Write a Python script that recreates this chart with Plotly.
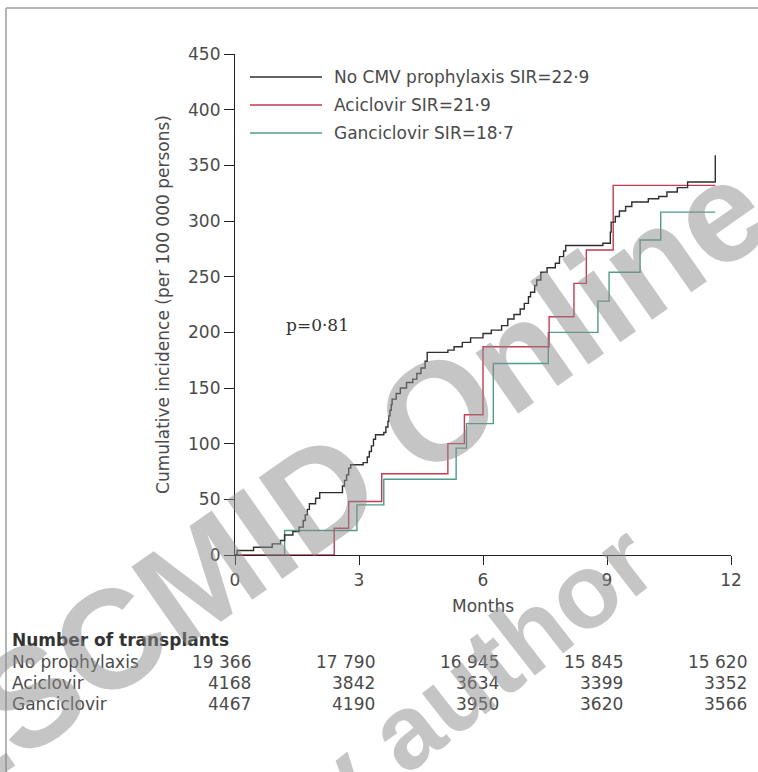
import plotly.graph_objects as go

# Cumulative incidence step curves (months, cases per 100 000 persons)
none_months = [0, 0.05, 0.45, 0.9, 1.1, 1.2, 1.4, 1.55, 1.65, 1.7, 1.75, 1.8, 1.95, 2.05,
               2.6, 2.65, 2.7, 2.75, 2.8, 3.1, 3.2, 3.25, 3.3, 3.35, 3.4, 3.6, 3.65, 3.7,
               3.72, 3.75, 3.78, 3.8, 3.9, 4.0, 4.15, 4.3, 4.4, 4.5, 4.6, 4.65, 5.15, 5.3,
               5.5, 5.7, 6.0, 6.2, 6.45, 6.6, 6.75, 6.9, 7.0, 7.1, 7.15, 7.25, 7.3, 7.4,
               7.55, 7.75, 7.85, 7.95, 8.0, 8.9, 9.08, 9.1, 9.2, 9.3, 9.45, 9.6, 10.0,
               10.25, 10.45, 10.7, 10.95, 11.62]
none_values = [0, 4, 7, 10, 13, 18, 21, 25, 31, 36, 41, 46, 51, 56,
               62, 67, 72, 78, 81, 83, 88, 93, 98, 104, 108, 110, 115, 120,
               125, 130, 135, 140, 145, 150, 155, 158, 163, 168, 174, 182, 184, 187,
               191, 195, 199, 202, 206, 212, 216, 221, 226, 232, 236, 242, 247, 254,
               258, 262, 268, 273, 278, 280, 290, 299, 304, 309, 313, 317, 320,
               322, 326, 330, 335, 359]

aci_months = [0, 2.4, 2.75, 3.55, 5.15, 5.55, 6.0, 7.6, 8.2, 8.5, 9.15, 11.62]
aci_values = [0, 24, 48, 73, 100, 126, 187, 214, 244, 274, 332, 332]

gan_months = [0, 1.2, 2.95, 3.6, 5.35, 5.6, 6.25, 7.58, 8.78, 9.05, 9.8, 10.3, 11.62]
gan_values = [0, 22, 45, 68, 96, 118, 172, 200, 228, 254, 283, 308, 308]

series_names = ["No CMV prophylaxis SIR=22·9", "Aciclovir SIR=21·9", "Ganciclovir SIR=18·7"]
series_colors = ["#2e2e2e", "#c63a52", "#4f9c8a"]

# Number at risk table
risk_months = [0, 3, 6, 9, 12]
risk_labels = ["No prophylaxis", "Aciclovir", "Ganciclovir"]
risk_counts = [
    ["19 366", "17 790", "16 945", "15 845", "15 620"],
    ["4168", "3842", "3634", "3399", "3352"],
    ["4467", "4190", "3950", "3620", "3566"],
]

x_ticks = [0, 3, 6, 9, 12]
y_ticks = [0, 50, 100, 150, 200, 250, 300, 350, 400, 450]

W, H = 758, 772
L, R, T, B = 235, 27, 54, 217          # plot area margins in px
PW, PH = W - L - R, H - T - B


def px(xp):
    return (xp - L) / PW


def py(yp):
    return (H - B - yp) / PH


SANS = "DejaVu Sans, Verdana, sans-serif"
SERIF = "DejaVu Serif, serif"
TXT = "#4a4a4a"
FS = 17

fig = go.Figure()
for mo, val, name, col in [
    (gan_months, gan_values, series_names[2], series_colors[2]),
    (aci_months, aci_values, series_names[1], series_colors[1]),
    (none_months, none_values, series_names[0], series_colors[0]),
]:
    fig.add_trace(go.Scatter(x=mo, y=val, mode="lines", name=name,
                             line=dict(color=col, width=1.4, shape="hv"),
                             showlegend=False, hoverinfo="skip"))

shapes = []
annotations = []

# Hand-placed legend
leg_y = [77, 105, 133]
for name, col, yy in zip(series_names, series_colors, leg_y):
    shapes.append(dict(type="line", xref="paper", yref="paper",
                       x0=px(250), x1=px(322), y0=py(yy), y1=py(yy),
                       line=dict(color=col, width=1.6)))
    annotations.append(dict(text=name, xref="paper", yref="paper", x=px(332), y=py(yy),
                            xanchor="left", yanchor="middle", showarrow=False,
                            font=dict(family=SANS, size=FS, color=TXT)))

annotations.append(dict(text="p=0·81", xref="paper", yref="paper", x=px(284), y=py(325),
                        xanchor="left", yanchor="middle", showarrow=False,
                        font=dict(family=SERIF, size=FS, color="#333")))

# x-axis title
annotations.append(dict(text="Months", xref="x", yref="paper", x=6, y=py(606),
                        xanchor="center", yanchor="middle", showarrow=False,
                        font=dict(family=SANS, size=FS, color=TXT)))

# Number of transplants table
annotations.append(dict(text="<b>Number of transplants</b>", xref="paper", yref="paper",
                        x=px(10), y=py(640), xanchor="left", yanchor="middle",
                        showarrow=False, font=dict(family=SANS, size=FS, color="#333")))
row_y = [662, 683, 704]
for lab, counts, yy in zip(risk_labels, risk_counts, row_y):
    annotations.append(dict(text=lab, xref="paper", yref="paper", x=px(10), y=py(yy),
                            xanchor="left", yanchor="middle", showarrow=False,
                            font=dict(family=SANS, size=FS, color=TXT)))
    for m, c in zip(risk_months, counts):
        annotations.append(dict(text=c, xref="x", yref="paper", x=m, y=py(yy),
                                xanchor="right", yanchor="middle", showarrow=False,
                                xshift=18,
                                font=dict(family=SANS, size=FS, color=TXT)))

# Watermark text
WM = "Liberation Sans, Arial, sans-serif"
annotations.append(dict(text="ESCMID Online", xref="paper", yref="paper",
                        x=px(332), y=py(484), xanchor="center", yanchor="middle",
                        textangle=-35, showarrow=False,
                        font=dict(family=WM, size=140, color="rgba(140,140,140,0.5)",
                                  weight="bold")))
annotations.append(dict(text="by author", xref="paper", yref="paper",
                        x=px(451), y=py(694), xanchor="center", yanchor="middle",
                        textangle=-38, showarrow=False,
                        font=dict(family=WM, size=105, color="rgba(140,140,140,0.5)",
                                  weight="bold")))

# Panel frame
shapes.append(dict(type="line", xref="paper", yref="paper", x0=px(6), x1=px(758),
                   y0=py(8), y1=py(8), line=dict(color="#b5b5b5", width=2)))
shapes.append(dict(type="line", xref="paper", yref="paper", x0=px(6), x1=px(6),
                   y0=py(8), y1=py(772), line=dict(color="#b5b5b5", width=2)))

fig.update_layout(
    width=W, height=H,
    margin=dict(l=L, r=R, t=T, b=B),
    paper_bgcolor="white", plot_bgcolor="white",
    shapes=shapes, annotations=annotations,
    xaxis=dict(range=[0, 12], tickvals=x_ticks, ticktext=[str(v) for v in x_ticks],
               showgrid=False, zeroline=False, showline=True, linecolor="#222",
               linewidth=1.2, ticks="outside", ticklen=9, tickcolor="#222",
               tickfont=dict(family=SANS, size=FS, color=TXT)),
    yaxis=dict(range=[0, 450], tickvals=y_ticks, showgrid=False, zeroline=False,
               showline=True, linecolor="#222", linewidth=1.2, ticks="outside",
               ticklen=10, tickcolor="#222",
               tickfont=dict(family=SANS, size=FS, color=TXT),
               title=dict(text="Cumulative incidence (per 100 000 persons)",
                          font=dict(family=SANS, size=FS, color=TXT), standoff=14)),
)

fig.write_html("out.html")
